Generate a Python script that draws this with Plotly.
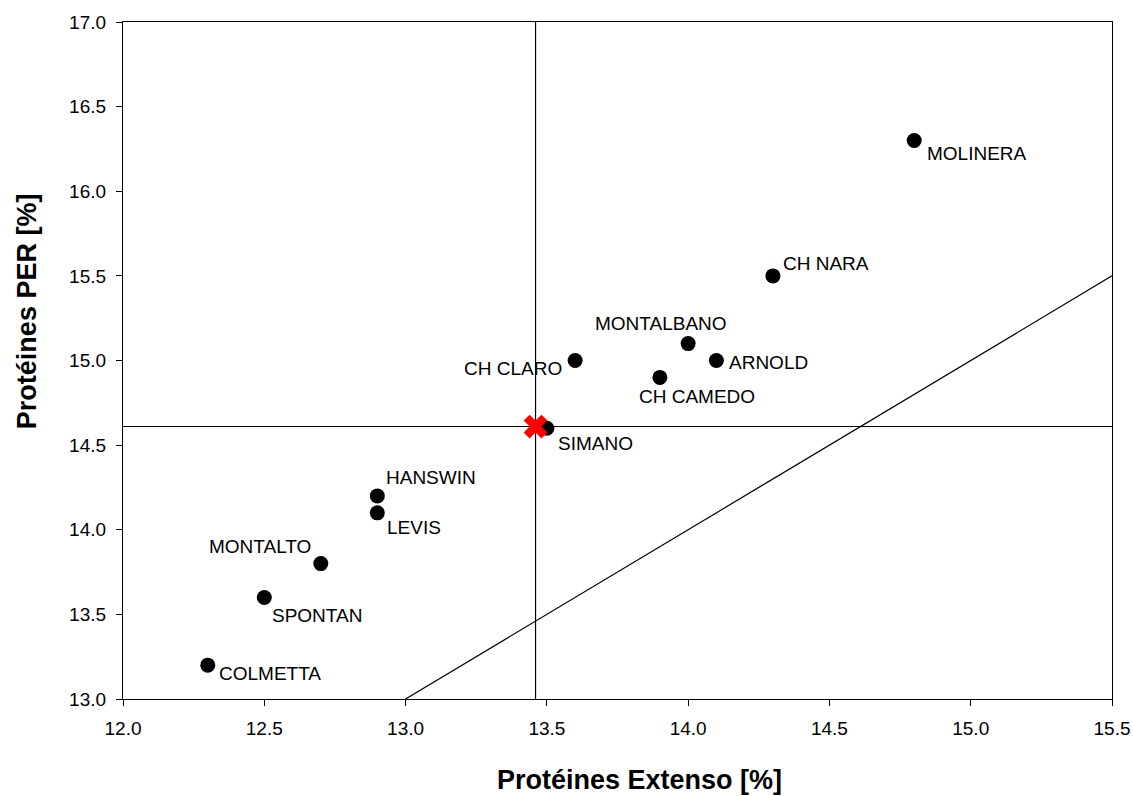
import plotly.graph_objects as go

# Data
varieties = ["MOLINERA", "CH NARA", "MONTALBANO", "CH CLARO", "ARNOLD", "CH CAMEDO",
             "SIMANO", "HANSWIN", "LEVIS", "MONTALTO", "SPONTAN", "COLMETTA"]
prot_extenso = [14.8, 14.3, 14.0, 13.6, 14.1, 13.9, 13.5, 12.9, 12.9, 12.7, 12.5, 12.3]
prot_per = [16.3, 15.5, 15.1, 15.0, 15.0, 14.9, 14.6, 14.2, 14.1, 13.8, 13.6, 13.2]

# Mean point (red cross) and reference lines
mean_extenso = 13.46
mean_per = 14.61
diag_x = [13.0, 15.5]
diag_y = [13.0, 15.5]

x_range = [12.0, 15.5]
y_range = [13.0, 17.0]

# Label placement (anchor, x shift px, y shift px)
label_pos = {
    "MOLINERA": ("left", 11, -13),
    "CH NARA": ("left", 8, 12),
    "MONTALBANO": ("center", -27, 20),
    "CH CLARO": ("right", -11, -8),
    "ARNOLD": ("left", 11, -2),
    "CH CAMEDO": ("center", 37, -19),
    "SIMANO": ("left", 9, -15),
    "HANSWIN": ("left", 7, 18),
    "LEVIS": ("left", 8, -15),
    "MONTALTO": ("right", -8, 17),
    "SPONTAN": ("left", 6, -18),
    "COLMETTA": ("left", 9, -8),
}

FONT = "Arial, Liberation Sans, sans-serif"

fig = go.Figure()

# reference lines
fig.add_trace(go.Scatter(x=[mean_extenso, mean_extenso], y=y_range, mode="lines",
                         line=dict(color="black", width=1.2), hoverinfo="skip", showlegend=False))
fig.add_trace(go.Scatter(x=x_range, y=[mean_per, mean_per], mode="lines",
                         line=dict(color="black", width=1.2), hoverinfo="skip", showlegend=False))
fig.add_trace(go.Scatter(x=diag_x, y=diag_y, mode="lines",
                         line=dict(color="black", width=1.2), hoverinfo="skip", showlegend=False))

# points
fig.add_trace(go.Scatter(x=prot_extenso, y=prot_per, mode="markers", text=varieties,
                         marker=dict(color="black", size=15, line=dict(width=0)),
                         showlegend=False))
# mean
fig.add_trace(go.Scatter(x=[mean_extenso], y=[mean_per], mode="markers",
                         marker=dict(color="#ff0000", size=21, symbol="x", line=dict(width=0)),
                         showlegend=False))

for name, xv, yv in zip(varieties, prot_extenso, prot_per):
    anchor, dx, dy = label_pos[name]
    fig.add_annotation(x=xv, y=yv, text=name, showarrow=False, xanchor=anchor, yanchor="middle",
                       xshift=dx, yshift=dy, font=dict(family=FONT, size=19, color="black"))

# axis titles
fig.add_annotation(x=0.522, y=-0.12, xref="paper", yref="paper", text="<b>Protéines Extenso [%]</b>",
                   showarrow=False, xanchor="center", yanchor="middle",
                   font=dict(family=FONT, size=27, color="black"))
fig.add_annotation(x=-0.097, y=0.573, xref="paper", yref="paper", text="<b>Protéines PER [%]</b>",
                   textangle=-90, showarrow=False, xanchor="center", yanchor="middle",
                   font=dict(family=FONT, size=27, color="black"))

axis_common = dict(showline=True, linecolor="black", linewidth=1.2, mirror=True,
                   ticks="outside", ticklen=6, tickcolor="black", tickwidth=1,
                   showgrid=False, zeroline=False, tickformat=".1f", dtick=0.5,
                   tickfont=dict(family=FONT, size=19, color="black"))

fig.update_xaxes(range=x_range, ticklabelstandoff=6, **axis_common)
fig.update_yaxes(range=y_range, ticklabelstandoff=6, **axis_common)

fig.update_layout(width=1133, height=796, margin=dict(l=123, r=21, t=22, b=97, autoexpand=False),
                  plot_bgcolor="white", paper_bgcolor="white", showlegend=False)

fig.write_html("out.html")
